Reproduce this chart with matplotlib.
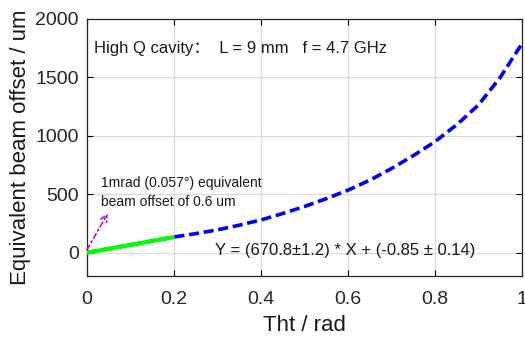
import matplotlib
matplotlib.use("Agg")
import matplotlib.pyplot as plt

plt.rcParams['font.family'] = ['Liberation Sans', 'Noto Sans CJK SC', 'DejaVu Sans']

# Data
tht = [0.0, 0.05, 0.1, 0.15, 0.2, 0.25, 0.3, 0.35, 0.4, 0.45, 0.5, 0.55,
       0.6, 0.65, 0.7, 0.75, 0.8, 0.85, 0.9, 0.95, 1.0]
offset = [0, 33, 67, 100, 134, 163, 195, 235, 280, 335, 395, 462,
          535, 620, 720, 830, 950, 1095, 1265, 1500, 1790]

fit_x = [0.0, 0.2]
fit_y = [-0.85, 133.3]

arrow_start = (0.0, 25)
arrow_end = (0.048, 336)

xticks = [0, 0.2, 0.4, 0.6, 0.8, 1]
xticklabels = ['0', '0.2', '0.4', '0.6', '0.8', '1']
yticks = [0, 500, 1000, 1500, 2000]

fig = plt.figure(figsize=(5.25, 3.38), dpi=100)
ax = fig.add_axes([0.1657, 0.1834, 0.8286, 0.7604])

ax.plot(tht, offset, color='#0000ff', lw=2.6, linestyle=(0, (2.8, 1.3)), zorder=3)
ax.plot(fit_x, fit_y, color='#00ff00', lw=3.0, solid_capstyle='butt', zorder=4)

ax.annotate('', xy=arrow_end, xytext=arrow_start,
            arrowprops=dict(arrowstyle='->', color='#cc00cc', lw=1.2,
                            linestyle=(0, (3, 2, 1, 2)), shrinkA=0, shrinkB=0,
                            mutation_scale=12), zorder=5)

ax.text(0.032, 515, '1mrad (0.057°) equivalent\nbeam offset of 0.6 um',
        fontsize=10, va='center', ha='left', linespacing=1.4, color='#1a1a1a')
ax.text(0.016, 1748, 'High Q cavity：  L = 9 mm   f = 4.7 GHz',
        fontsize=12, va='center', ha='left', color='#1a1a1a')
ax.text(0.294, 20, 'Y = (670.8±1.2) * X + (-0.85 ± 0.14)',
        fontsize=12, va='center', ha='left', color='#1a1a1a')

ax.set_xlim(0, 1)
ax.set_ylim(-200, 2000)
ax.set_xticks(xticks)
ax.set_xticklabels(xticklabels)
ax.set_yticks(yticks)
ax.tick_params(direction='in', top=True, right=True, labelsize=14, length=4,
               width=0.8, labelcolor='#262626')
ax.tick_params(axis='x', pad=11)
ax.tick_params(axis='y', pad=6)
ax.grid(True, color='#d9d9d9', lw=0.9)
ax.set_axisbelow(True)
for s in ax.spines.values():
    s.set_linewidth(0.9)
    s.set_color('#262626')

ax.set_xlabel('Tht / rad', fontsize=16, labelpad=5, color='#1a1a1a')
ax.set_ylabel('Equivalent beam offset / um', fontsize=16, labelpad=3, color='#1a1a1a')

fig.savefig('out.png', dpi=100)
